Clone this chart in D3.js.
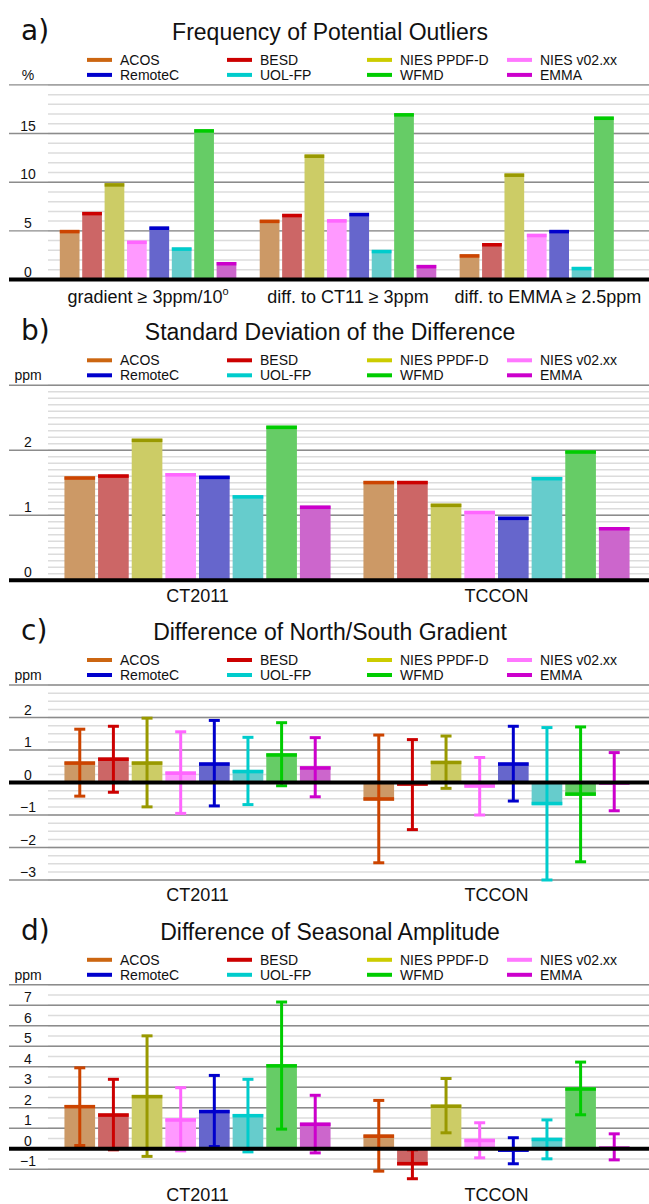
<!DOCTYPE html>
<html>
<head>
<meta charset="utf-8">
<script src="https://cdn.jsdelivr.net/npm/d3@7"></script>
<style>
  body { margin: 0; background: #fff; }
  text { font-family: "Liberation Sans", Arial, sans-serif; fill: #111; }
</style>
</head>
<body>
<div id="chart"></div>
<script>

// series (same order in legend and bars)
var series = ["ACOS", "BESD", "NIES PPDF-D", "NIES v02.xx", "RemoteC", "UOL-FP", "WFMD", "EMMA"];

// a) frequency of potential outliers (%)
var outlierGroups = ["gradient \u2265 3ppm/10", "diff. to CT11 \u2265 3ppm", "diff. to EMMA \u2265 2.5ppm"];
var outlierGroupSup = ["o", "", ""];
var outlierFreq = [
    [5.1, 6.95, 9.9, 4.0, 5.45, 3.3, 15.45, 1.8],
    [6.15, 6.75, 12.85, 6.2, 6.85, 3.05, 17.1, 1.5],
    [2.6, 3.75, 10.9, 4.7, 5.1, 1.3, 16.75, 0]
];

// b) standard deviation of the difference (ppm)
var refGroups = ["CT2011", "TCCON"];
var stdDiff = [
    [1.6, 1.63, 2.18, 1.65, 1.61, 1.31, 2.38, 1.15],
    [1.53, 1.53, 1.18, 1.07, 0.98, 1.59, 2.0, 0.82]
];

// c) difference of north/south gradient (ppm)
var nsGrad = [
    [0.65, 0.77, 0.65, 0.34, 0.62, 0.39, 0.9, 0.5],
    [-0.56, -0.1, 0.67, -0.16, 0.62, -0.7, -0.41, 0.04]
];
var nsGradHi = [
    [1.64, 1.73, 1.98, 1.56, 1.91, 1.39, 1.84, 1.38],
    [1.46, 1.32, 1.43, 0.77, 1.73, 1.69, 1.71, 0.92]
];
var nsGradLo = [
    [-0.42, -0.3, -0.75, -0.95, -0.72, -0.68, -0.1, -0.44],
    [-2.47, -1.45, -0.18, -1.0, -0.57, -3.0, -2.44, -0.87]
];

// d) difference of seasonal amplitude (ppm)
var seasAmp = [
    [2.14, 1.73, 2.63, 1.49, 1.9, 1.7, 4.13, 1.28],
    [0.7, -0.81, 2.16, 0.49, -0.15, 0.54, 3.0, 0.11]
];
var seasAmpHi = [
    [3.95, 3.39, 5.51, 2.98, 3.58, 3.39, 7.16, 2.61],
    [2.36, -0.05, 3.43, 1.27, 0.54, 1.41, 4.23, 0.73]
];
var seasAmpLo = [
    [0.16, -0.05, -0.37, -0.1, 0.11, -0.15, 0.96, -0.2],
    [-1.09, -1.46, 0.78, -0.44, -0.73, -0.49, 1.66, -0.54]
];

//Colors
var legendColors = ["#cc6611", "#cc0000", "#cccc00", "#ff77ff", "#0000cc", "#00cccc", "#00cc00", "#cc00cc"];
var markColors = ["#cc4400", "#cc0000", "#999900", "#ff66ff", "#0000cc", "#00cccc", "#00cc00", "#cc00cc"];
var fillColors = ["#cc9966", "#cc6666", "#cccc66", "#ff99ff", "#6666cc", "#66cccc", "#66cc66", "#cc66cc"];

var width = 649, height = 1204;

var svg = d3.select("#chart").append("svg")
    .attr("width", width)
    .attr("height", height);

drawPanel({
    letter: "a)", title: "Frequency of Potential Outliers", unit: "%",
    top: 84.9, bottom: 279.5, domain: [0, 20],
    major: 5, minor: 1, ticks: [0, 5, 10, 15],
    groups: outlierGroups, groupSup: outlierGroupSup, values: outlierFreq,
    xRange: [48, 648], groupPad: 0.117, groupOuter: 0.059, barPad: 0.12,
    labelY: 303
});

drawPanel({
    letter: "b)", title: "Standard Deviation of the Difference", unit: "ppm",
    top: 385.3, bottom: 580.3, domain: [0, 3],
    major: 1, minor: 0.1, ticks: [0, 1, 2],
    groups: refGroups, values: stdDiff,
    xRange: [48, 646], groupPad: 0.11, groupOuter: 0.055, barPad: 0.089,
    labelY: 602
});

drawPanel({
    letter: "c)", title: "Difference of North/South Gradient", unit: "ppm",
    top: 685, bottom: 880, domain: [-3, 3],
    major: 1, minor: 0.25, ticks: [-3, -2, -1, 0, 1, 2],
    groups: refGroups, values: nsGrad, hi: nsGradHi, lo: nsGradLo,
    xRange: [48, 646], groupPad: 0.11, groupOuter: 0.055, barPad: 0.089,
    labelY: 901
});

drawPanel({
    letter: "d)", title: "Difference of Seasonal Amplitude", unit: "ppm",
    top: 984.8, bottom: 1169.3, domain: [-1, 8],
    major: 1, minor: 0.5, ticks: [-1, 0, 1, 2, 3, 4, 5, 6, 7],
    groups: refGroups, values: seasAmp, hi: seasAmpHi, lo: seasAmpLo,
    xRange: [48, 646], groupPad: 0.11, groupOuter: 0.055, barPad: 0.089,
    labelY: 1201
});

function drawPanel(p) {

    var g = svg.append("g");
    var F = p.top;

    var y = d3.scaleLinear()
        .domain(p.domain)
        .range([p.bottom, p.top]);

    var x0 = d3.scaleBand()
        .domain(p.groups)
        .range(p.xRange)
        .paddingInner(p.groupPad)
        .paddingOuter(p.groupOuter);

    var x1 = d3.scaleBand()
        .domain(series)
        .range([0, x0.bandwidth()])
        .paddingInner(p.barPad)
        .paddingOuter(0);

    //panel letter and title
    g.append("text")
        .attr("x", 21).attr("y", F - 45)
        .style("font-family", "'DejaVu Sans', sans-serif")
        .style("font-size", "28px")
        .text(p.letter);

    g.append("text")
        .attr("x", 330).attr("y", F - 45)
        .attr("text-anchor", "middle")
        .style("font-size", "23px")
        .text(p.title);

    //legend, 4 columns x 2 rows
    var leg = g.selectAll(".legend").data(series).enter().append("g")
        .attr("transform", function (d, i) {
            return "translate(" + (87 + 140 * (i % 4)) + "," + (F - 25 + 15 * Math.floor(i / 4)) + ")";
        });
    leg.append("line")
        .attr("x1", 0).attr("x2", 25)
        .style("stroke", function (d, i) { return legendColors[i]; })
        .style("stroke-width", 4);
    leg.append("text")
        .attr("x", 33).attr("y", 5)
        .style("font-size", "14px")
        .text(function (d) { return d; });

    g.append("text")
        .attr("x", 28).attr("y", F - 5)
        .attr("text-anchor", "middle")
        .style("font-size", "14px")
        .text(p.unit);

    //grid
    var n = Math.round((p.domain[1] - p.domain[0]) / p.minor);
    var minorVals = d3.range(n + 1).map(function (k) { return p.domain[0] + k * p.minor; });
    g.selectAll(".minor").data(minorVals).enter().append("line")
        .attr("x1", 48).attr("x2", width)
        .attr("y1", function (d) { return y(d); })
        .attr("y2", function (d) { return y(d); })
        .style("stroke", "#dcdcdc")
        .style("stroke-width", 1.5);

    var m = Math.round((p.domain[1] - p.domain[0]) / p.major);
    var majorVals = d3.range(m + 1).map(function (k) { return p.domain[0] + k * p.major; })
        .filter(function (d) { return d !== 0; });
    g.selectAll(".major").data(majorVals).enter().append("line")
        .attr("x1", 9).attr("x2", width)
        .attr("y1", function (d) { return y(d); })
        .attr("y2", function (d) { return y(d); })
        .style("stroke", "#8c8c8c")
        .style("stroke-width", 1.4);

    g.selectAll(".tick").data(p.ticks).enter().append("text")
        .attr("x", 28)
        .attr("y", function (d) { return y(d) - 3; })
        .attr("text-anchor", "middle")
        .style("font-size", "14px")
        .text(function (d) { return d < 0 ? "\u2212" + Math.abs(d) : d; });

    //bars
    var groupG = g.selectAll(".group").data(p.groups).enter().append("g")
        .attr("transform", function (d) { return "translate(" + x0(d) + ",0)"; });

    var bw = x1.bandwidth();

    groupG.each(function (gname, gi) {
        var sel = d3.select(this);
        var vals = p.values[gi];

        sel.selectAll(".bar").data(vals).enter().append("rect")
            .attr("x", function (d, i) { return x1(series[i]); })
            .attr("width", bw)
            .attr("y", function (d) { return Math.min(y(d), y(0)); })
            .attr("height", function (d) { return Math.abs(y(d) - y(0)); })
            .style("fill", function (d, i) { return fillColors[i]; });

        //dark cap at the value end, inside the bar
        sel.selectAll(".cap").data(vals).enter().append("rect")
            .filter(function (d) { return d !== 0; })
            .attr("x", function (d, i) { return x1(series[i]); })
            .attr("width", bw)
            .attr("y", function (d) { return d > 0 ? y(d) : y(d) - 3.5; })
            .attr("height", 3.5)
            .style("fill", function (d, i) { return markColors[i]; });
    });

    //zero line
    g.append("line")
        .attr("x1", 9).attr("x2", width)
        .attr("y1", y(0)).attr("y2", y(0))
        .style("stroke", "#000")
        .style("stroke-width", 4);

    //error bars
    if (p.hi) {
        groupG.each(function (gname, gi) {
            var sel = d3.select(this);
            var rows = series.map(function (s, i) {
                return { i: i, cx: x1(s) + bw / 2, hi: p.hi[gi][i], lo: p.lo[gi][i] };
            });
            var eb = sel.selectAll(".err").data(rows).enter().append("g")
                .style("stroke", function (d) { return markColors[d.i]; })
                .style("stroke-width", 3);
            eb.append("line")
                .attr("x1", function (d) { return d.cx; })
                .attr("x2", function (d) { return d.cx; })
                .attr("y1", function (d) { return y(d.hi); })
                .attr("y2", function (d) { return y(d.lo); });
            eb.append("line")
                .attr("x1", function (d) { return d.cx - 5.5; })
                .attr("x2", function (d) { return d.cx + 5.5; })
                .attr("y1", function (d) { return y(d.hi); })
                .attr("y2", function (d) { return y(d.hi); });
            eb.append("line")
                .attr("x1", function (d) { return d.cx - 5.5; })
                .attr("x2", function (d) { return d.cx + 5.5; })
                .attr("y1", function (d) { return y(d.lo); })
                .attr("y2", function (d) { return y(d.lo); });
        });
    }

    //group labels
    var lab = g.selectAll(".glabel").data(p.groups).enter().append("text")
        .attr("x", function (d) { return x0(d) + x0.bandwidth() / 2; })
        .attr("y", p.labelY)
        .attr("text-anchor", "middle")
        .style("font-size", "18px")
        .text(function (d) { return d; });

    if (p.groupSup) {
        lab.append("tspan")
            .attr("dy", -8)
            .style("font-size", "11px")
            .text(function (d, i) { return p.groupSup[i]; });
    }
}

</script>
</body>
</html>
